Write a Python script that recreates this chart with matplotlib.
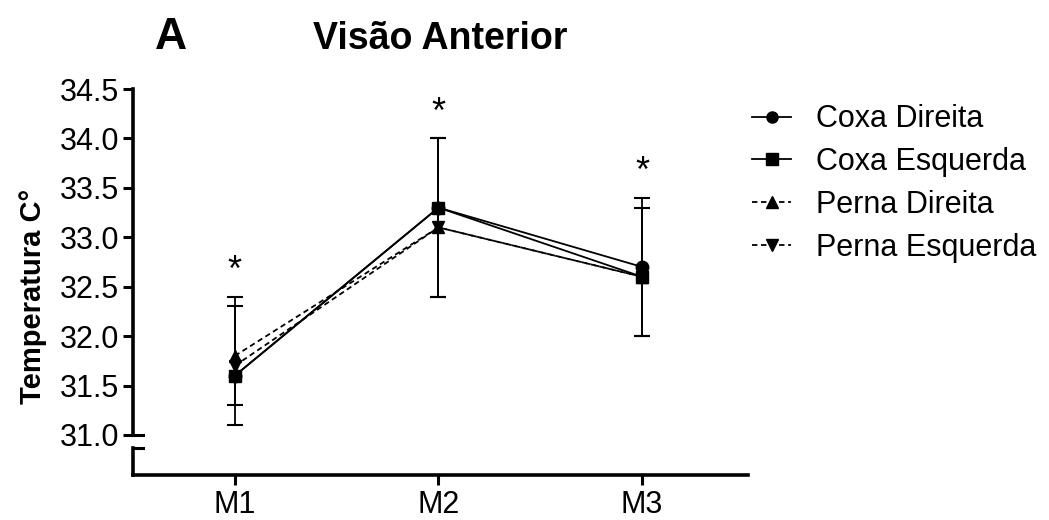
import numpy as np
import matplotlib
matplotlib.use("Agg")
from matplotlib import pyplot as plt
from matplotlib.lines import Line2D

plt.rcParams['font.family'] = ['Liberation Sans', 'DejaVu Sans']

# time points and mean skin temperature (deg C) per region
moments = ['M1', 'M2', 'M3']
coxa_dir = [31.6, 33.3, 32.7]
coxa_esq = [31.6, 33.3, 32.6]
perna_dir = [31.8, 33.1, 32.6]
perna_esq = [31.7, 33.1, 32.6]

# standard deviations (thigh drawn below the mean, leg drawn above)
sd_coxa_dir = [0.3, 0.9, 0.7]
sd_coxa_esq = [0.5, 0.9, 0.6]
sd_perna_dir = [0.6, 0.9, 0.8]
sd_perna_esq = [0.6, 0.9, 0.7]

labels = ['Coxa Direita', 'Coxa Esquerda', 'Perna Direita', 'Perna Esquerda']

fig = plt.figure(figsize=(10.49, 5.20), dpi=100)
ax = fig.add_axes([0.1268, 0.1635, 0.5863, 0.6653])
axb = fig.add_axes([0.1268, 0.0865, 0.5863, 0.0519], sharex=ax)

x = np.arange(len(moments))
dash = (0, (3, 2))
lw_spine = 2.6

series = [
    (coxa_dir, sd_coxa_dir, 'o', '-', -1),
    (coxa_esq, sd_coxa_esq, 's', '-', -1),
    (perna_dir, sd_perna_dir, '^', dash, 1),
    (perna_esq, sd_perna_esq, 'v', dash, 1),
]

handles = []
for (y, sd, mk, ls, side), lab in zip(series, labels):
    y = np.array(y)
    end = y + side * np.array(sd)
    ax.vlines(x, y, end, color='black', lw=1.3, zorder=2)
    ax.plot(x, end, ls='none', marker='_', ms=11, mew=1.5, color='black', zorder=2)
    ax.plot(x, y, color='black', lw=1.3, ls=ls, marker=mk, ms=9, zorder=3)
    handles.append(Line2D([], [], color='black', lw=1.3, ls=ls, marker=mk, ms=8))

# significance marks above each time point
tops = [max(a + s for a, s in zip(col_y, col_s))
        for col_y, col_s in zip(zip(perna_dir, perna_esq), zip(sd_perna_dir, sd_perna_esq))]
for xi, t in zip(x, tops):
    ax.text(xi, t + 0.08, '*', ha='center', va='bottom', fontsize=26)

ax.set_ylim(31.0, 34.5)
ax.set_yticks(np.arange(31.0, 34.51, 0.5))
ax.set_yticklabels(['%.1f' % v for v in np.arange(31.0, 34.51, 0.5)])
ax.set_xlim(-0.5, 2.52)
for s in ['top', 'right', 'bottom']:
    ax.spines[s].set_visible(False)
ax.spines['left'].set_linewidth(lw_spine)
ax.tick_params(axis='x', bottom=False, labelbottom=False)
ax.tick_params(axis='y', length=7, width=2.2, labelsize=22, pad=3)
ax.set_ylabel('Temperatura C°', fontsize=21, fontweight='bold')
ax.yaxis.set_label_coords(-0.14, 0.4)

# lower segment of the broken y axis
axb.set_ylim(0, 1)
axb.set_yticks([])
for s in ['top', 'right']:
    axb.spines[s].set_visible(False)
axb.spines['left'].set_linewidth(lw_spine)
axb.spines['bottom'].set_linewidth(lw_spine)
axb.set_xticks(x)
axb.set_xticklabels(moments)
axb.tick_params(axis='x', length=7, width=2.2, labelsize=22, pad=4)
axb.patch.set_visible(False)

# break marks
ax.plot([0, 0.016], [0, 0], transform=ax.transAxes, color='black', lw=2.2, clip_on=False)
axb.plot([0, 0.016], [1, 1], transform=axb.transAxes, color='black', lw=2.2, clip_on=False)

fig.text(0.148, 0.905, 'A', fontsize=32, fontweight='bold')
fig.text(0.298, 0.905, 'Visão Anterior', fontsize=27, fontweight='bold')

fig.legend(handles, labels, loc='upper left', bbox_to_anchor=(0.705, 0.823),
           frameon=False, fontsize=22, handlelength=1.3, handletextpad=0.8,
           labelspacing=0.42, borderaxespad=0)

fig.savefig('out.png', dpi=100)
